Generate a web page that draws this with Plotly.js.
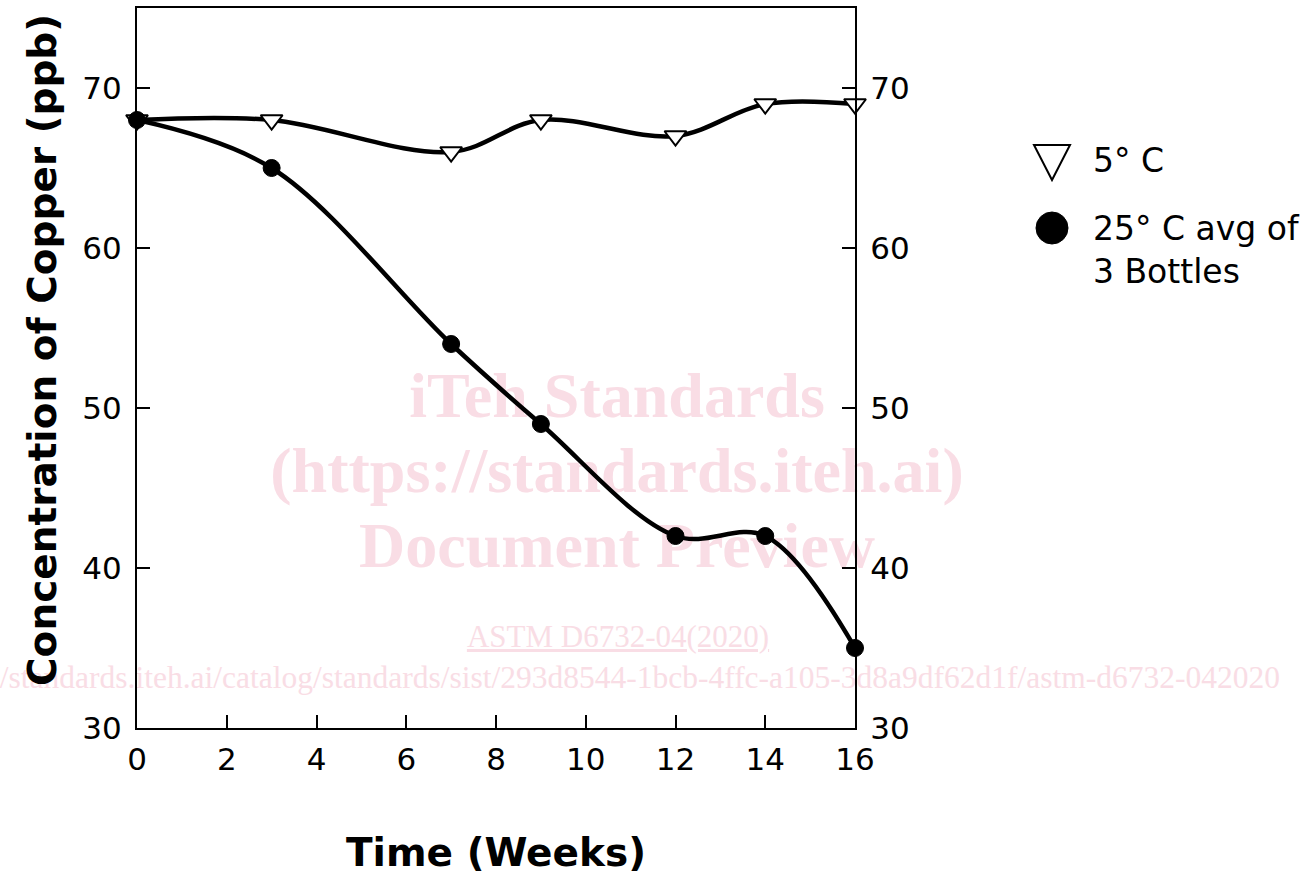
<!DOCTYPE html>
<html><head><meta charset="utf-8">
<script src="https://cdn.plot.ly/plotly-3.0.1.min.js"></script>
<style>
html,body{margin:0;padding:0;background:#fff;}
#wrap{position:relative;width:1314px;height:877px;overflow:hidden;}
#wm{position:absolute;left:0;top:0;width:1314px;height:877px;font-family:"Liberation Serif",serif;color:#f9dde5;}
#wm div{position:absolute;white-space:nowrap;}
#plot{position:absolute;left:0;top:0;width:1314px;height:877px;}
</style></head>
<body>
<div id="wrap">
<div id="wm">
  <div style="left:0;width:1234px;text-align:center;top:359px;font-size:64px;font-weight:bold;">iTeh Standards</div>
  <div style="left:0;width:1234px;text-align:center;top:434px;font-size:64px;font-weight:bold;">(https://standards.iteh.ai)</div>
  <div style="left:0;width:1234px;text-align:center;top:509px;font-size:64px;font-weight:bold;">Document Preview</div>
  <div style="left:0;width:1236px;text-align:center;top:619px;font-size:31px;text-decoration:underline;">ASTM D6732-04(2020)</div>
  <div style="right:34px;top:660px;font-size:31.5px;">https://standards.iteh.ai/catalog/standards/sist/293d8544-1bcb-4ffc-a105-3d8a9df62d1f/astm-d6732-042020</div>
</div>
<div id="plot"></div>
</div>
<script>
const weeks = [0, 3, 7, 9, 12, 14, 16];
const cold5C = [68, 68, 66, 68, 67, 69, 69];
const warm25C = [68, 65, 54, 49, 42, 42, 35];
const xTicks = [0, 2, 4, 6, 8, 10, 12, 14, 16];
const yTicks = [30, 40, 50, 60, 70];
const seriesNames = ["5° C", "25° C avg of<br>3 Bottles"];
const xTitle = "Time (Weeks)";
const yTitle = "Concentration of Copper (ppb)";

const font = "DejaVu Sans, Verdana, sans-serif";
const traces = [
  {x: weeks, y: cold5C, name: seriesNames[0], type: "scatter", mode: "lines+markers", cliponaxis: false,
   line: {shape: "spline", smoothing: 1, color: "#000", width: 4.5},
   marker: {symbol: "triangle-down", size: 19, color: "#fff", line: {color: "#000", width: 2}}},
  {x: weeks, y: warm25C, name: seriesNames[1], type: "scatter", mode: "lines+markers", cliponaxis: false,
   line: {shape: "spline", smoothing: 1, color: "#000", width: 4.5},
   marker: {symbol: "circle", size: 17, color: "#000", line: {color: "#000", width: 1}}},
  {x: [0], y: [30], yaxis: "y2", type: "scatter", mode: "markers", marker: {opacity: 0},
   showlegend: false, hoverinfo: "skip"}
];
// pixel -> paper helpers for legend/title placement
const px = v => (v - 137) / 718;
const py = v => (728 - v) / 720;

const yCommon = {range: [30, 75], tickvals: yTicks, ticks: "inside", ticklen: 13, tickwidth: 2,
  tickcolor: "#000", showline: true, linecolor: "#000", linewidth: 2, showgrid: false, zeroline: false,
  tickfont: {family: font, size: 31, color: "#000"}, ticklabelstandoff: 7};
const layout = {
  width: 1314, height: 877,
  margin: {l: 137, r: 459, t: 8, b: 149},
  paper_bgcolor: "rgba(0,0,0,0)", plot_bgcolor: "rgba(0,0,0,0)",
  showlegend: false,
  xaxis: {range: [0, 16], tickvals: xTicks, ticks: "inside", ticklen: 13, tickwidth: 2, tickcolor: "#000",
    showline: true, mirror: true, linecolor: "#000", linewidth: 2, showgrid: false, zeroline: false,
    tickfont: {family: font, size: 31, color: "#000"}, ticklabelstandoff: 3,
    title: {text: xTitle, font: {family: font, size: 39, color: "#000", weight: "bold"}, standoff: 62}},
  yaxis: yCommon,
  yaxis2: Object.assign({}, yCommon, {overlaying: "y", side: "right"}),
  shapes: [
    {type: "path", xref: "paper", yref: "paper",
     path: `M ${px(1034)} ${py(145)} L ${px(1070)} ${py(145)} L ${px(1052)} ${py(180)} Z`,
     line: {color: "#000", width: 2}, fillcolor: "#fff"},
    {type: "circle", xref: "paper", yref: "paper",
     x0: px(1036), x1: px(1068), y0: py(212), y1: py(244),
     line: {color: "#000", width: 1}, fillcolor: "#000"}
  ],
  annotations: [
    {xref: "paper", yref: "paper", x: px(1091), y: py(160), xanchor: "left", yanchor: "middle",
     text: seriesNames[0], showarrow: false, font: {family: font, size: 33, color: "#000"}},
    {xref: "paper", yref: "paper", x: px(1091), y: py(207), xanchor: "left", yanchor: "top", align: "left",
     text: seriesNames[1], showarrow: false, font: {family: font, size: 33, color: "#000"}},
    {xref: "paper", yref: "paper", x: px(42), y: py(350), xanchor: "center", yanchor: "middle", textangle: -90,
     text: "<b>" + yTitle + "</b>", showarrow: false, font: {family: font, size: 39, color: "#000"}}
  ]
};
Plotly.newPlot("plot", traces, layout, {displayModeBar: false, staticPlot: true});
</script>
</body></html>
